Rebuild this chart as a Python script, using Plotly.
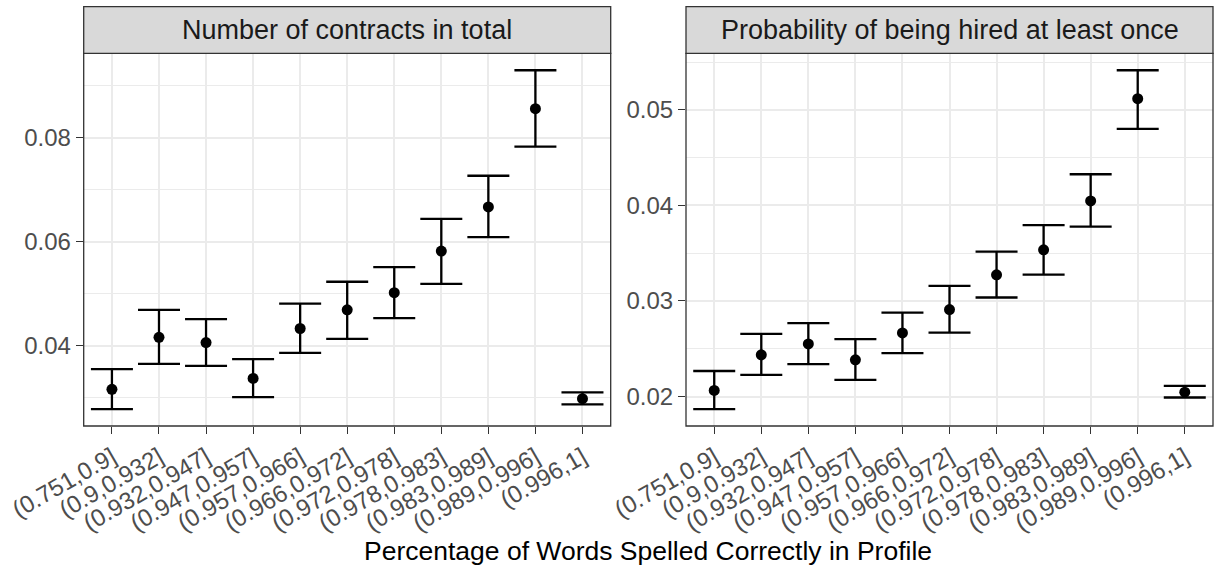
import plotly.graph_objects as go

W, H = 1214, 567

categories = ["(0.751,0.9]", "(0.9,0.932]", "(0.932,0.947]", "(0.947,0.957]", "(0.957,0.966]",
              "(0.966,0.972]", "(0.972,0.978]", "(0.978,0.983]", "(0.983,0.989]", "(0.989,0.996]",
              "(0.996,1]"]

contracts_est = [0.0316, 0.0416, 0.0406, 0.0337, 0.0433, 0.0469, 0.0502, 0.0582, 0.0667, 0.0856, 0.0298]
contracts_lo  = [0.0278, 0.0365, 0.0361, 0.0301, 0.0386, 0.0413, 0.0453, 0.0519, 0.0609, 0.0783, 0.0287]
contracts_hi  = [0.0355, 0.0469, 0.0451, 0.0374, 0.0481, 0.0523, 0.0551, 0.0644, 0.0727, 0.0930, 0.0310]

hired_est = [0.02064, 0.02436, 0.02551, 0.02384, 0.02666, 0.0291, 0.03273, 0.03535, 0.04047, 0.05116, 0.02046]
hired_lo  = [0.01869, 0.02227, 0.02339, 0.02175, 0.02454, 0.02669, 0.03036, 0.03276, 0.03778, 0.04800, 0.01990]
hired_hi  = [0.02267, 0.02656, 0.02768, 0.02600, 0.02879, 0.03158, 0.03517, 0.03793, 0.04326, 0.05414, 0.02112]

panel_titles = ["Number of contracts in total", "Probability of being hired at least once"]
x_title = "Percentage of Words Spelled Correctly in Profile"

left_ticks = [0.04, 0.06, 0.08]
right_ticks = [0.02, 0.03, 0.04, 0.05]

FONT = "Liberation Sans, Arial, sans-serif"

def px_x(p):
    return p / W

def px_y(p):
    return 1 - p / H

panels = [
    dict(x0=83.7, x1=610.7),
    dict(x0=686.0, x1=1213.0),
]
ytop, ybot = 53.3, 426.0
strip_top = 6.7

def yrange(lo, hi):
    span = max(hi) - min(lo)
    return [min(lo) - 0.05 * span, max(hi) + 0.05 * span]

fig = go.Figure()

series = [(contracts_est, contracts_lo, contracts_hi), (hired_est, hired_lo, hired_hi)]
for i, (est, lo, hi) in enumerate(series):
    xa = "x" if i == 0 else "x2"
    ya = "y" if i == 0 else "y2"
    fig.add_trace(go.Scatter(
        x=categories, y=est, mode="markers", xaxis=xa, yaxis=ya,
        marker=dict(color="black", size=11),
        error_y=dict(type="data", symmetric=False,
                     array=[h - e for h, e in zip(hi, est)],
                     arrayminus=[e - l for e, l in zip(est, lo)],
                     color="black", thickness=2.3, width=21),
        showlegend=False, hoverinfo="skip"))

common_x = dict(type="category", range=[-0.6, 10.6], showgrid=True, gridcolor="#EBEBEB", gridwidth=2,
                ticks="outside", ticklen=7, tickcolor="#333333", tickwidth=1.3, tickangle=-30,
                tickfont=dict(family=FONT, size=24, color="#4D4D4D"), showline=False, zeroline=False,
                automargin=False, fixedrange=True)
common_y = dict(showgrid=True, gridcolor="#EBEBEB", gridwidth=2,
                ticks="outside", ticklen=7, tickcolor="#333333", tickwidth=1.3,
                tickfont=dict(family=FONT, size=24, color="#4D4D4D"), showline=False, zeroline=False,
                automargin=False, fixedrange=True)

fig.update_layout(
    width=W, height=H, margin=dict(l=0, r=0, t=0, b=0),
    paper_bgcolor="white", plot_bgcolor="white",
    font=dict(family=FONT),
    xaxis=dict(common_x, domain=[px_x(panels[0]["x0"]), px_x(panels[0]["x1"])], anchor="y"),
    xaxis2=dict(common_x, domain=[px_x(panels[1]["x0"]), px_x(panels[1]["x1"])], anchor="y2"),
    yaxis=dict(common_y, domain=[px_y(ybot), px_y(ytop)], anchor="x",
               range=yrange(contracts_lo, contracts_hi), tickvals=left_ticks,
               ticktext=["%.2f" % v for v in left_ticks],
               minor=dict(showgrid=True, gridcolor="#EBEBEB", gridwidth=1, dtick=0.01, tick0=0, ticks="")),
    yaxis2=dict(common_y, domain=[px_y(ybot), px_y(ytop)], anchor="x2",
                range=yrange(hired_lo, hired_hi), tickvals=right_ticks,
                ticktext=["%.2f" % v for v in right_ticks],
                minor=dict(showgrid=True, gridcolor="#EBEBEB", gridwidth=1, dtick=0.005, tick0=0, ticks="")),
)

for i, p in enumerate(panels):
    fig.add_shape(type="rect", xref="paper", yref="paper",
                  x0=px_x(p["x0"]), x1=px_x(p["x1"]), y0=px_y(ybot), y1=px_y(ytop),
                  line=dict(color="#333333", width=1.3), fillcolor="rgba(0,0,0,0)", layer="above")
    fig.add_shape(type="rect", xref="paper", yref="paper",
                  x0=px_x(p["x0"]), x1=px_x(p["x1"]), y0=px_y(ytop), y1=px_y(strip_top),
                  line=dict(color="#333333", width=1.3), fillcolor="#D9D9D9", layer="above")
    fig.add_annotation(xref="paper", yref="paper", x=(px_x(p["x0"]) + px_x(p["x1"])) / 2,
                       y=(px_y(ytop) + px_y(strip_top)) / 2, text=panel_titles[i], showarrow=False,
                       xanchor="center", yanchor="middle",
                       font=dict(family=FONT, size=27, color="#1A1A1A"))

fig.add_annotation(xref="paper", yref="paper", x=px_x((panels[0]["x0"] + panels[1]["x1"]) / 2),
                   y=px_y(551), text=x_title, showarrow=False, xanchor="center", yanchor="middle",
                   font=dict(family=FONT, size=26.5, color="black"))

fig.write_html("out.html")
